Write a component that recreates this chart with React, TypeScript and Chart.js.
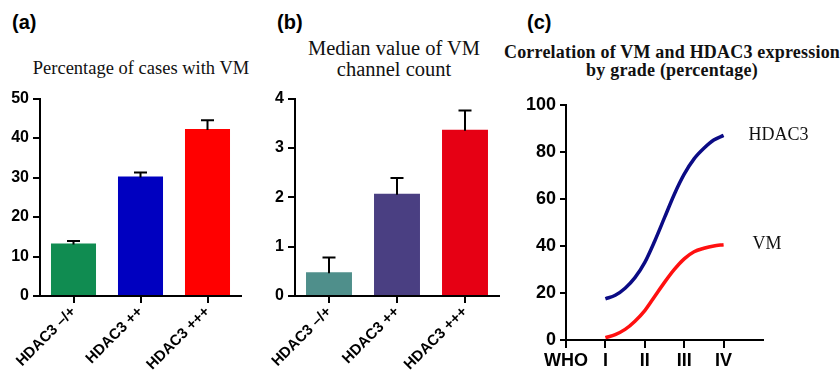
import React, { useEffect, useRef } from 'react';
import { Chart, registerables } from 'chart.js';

Chart.register(...registerables);

const SANS = '"Liberation Sans", Arial, Helvetica, sans-serif';
const SERIF = '"Liberation Serif", "Times New Roman", Times, serif';

// ---- Panel (a): percentage of cases with VM ----
const barCategories = ['HDAC3 –/+', 'HDAC3 ++', 'HDAC3 +++'];
const vmPercentValues = [13.3, 30.3, 42.3];
const vmPercentErrors = [0.6, 1.0, 2.2];
const vmPercentColors = ['#108c51', '#0000c0', '#ff0000'];
const vmPercentTicks = [0, 10, 20, 30, 40, 50];

// ---- Panel (b): median VM channel count ----
const channelValues = [0.48, 2.07, 3.37];
const channelErrors = [0.3, 0.32, 0.39];
const channelColors = ['#4f8f8b', '#4a3f82', '#e60014'];
const channelTicks = [0, 1, 2, 3, 4];

// ---- Panel (c): correlation by grade ----
const gradeTickValues = [0, 1, 2, 3, 4];
const gradeTickLabels = ['WHO', 'I', 'II', 'III', 'IV'];
const gradeAxisMax = 5;
const gradePositions = [1, 1.25, 1.5, 1.75, 2, 2.25, 2.5, 2.75, 3, 3.25, 3.5, 3.75, 4];
const hdac3Values = [17.5, 19, 22, 26.5, 33, 42, 52, 62, 70.5, 77, 81.5, 85, 87];
const vmValues = [1, 2.3, 4.5, 8, 12.5, 18.5, 24.5, 30, 34.5, 37.5, 39, 40, 40.5];
const percentYTicks = [0, 20, 40, 60, 80, 100];

const INK = '#000';

const errorBarPlugin = {
  id: 'errorBars',
  afterDatasetsDraw(chart: any, _args: any, opts: any) {
    const { ctx } = chart;
    const yScale = chart.scales.y;
    const errs: number[] = opts.errors || [];
    chart.data.datasets.forEach((ds: any, i: number) => {
      const meta = chart.getDatasetMeta(i);
      meta.data.forEach((bar: any, j: number) => {
        const v = ds.data[j];
        const top = yScale.getPixelForValue(v + errs[j]);
        ctx.save();
        ctx.strokeStyle = INK;
        ctx.lineWidth = 2;
        ctx.beginPath();
        ctx.moveTo(bar.x, bar.y + 1);
        ctx.lineTo(bar.x, top);
        ctx.moveTo(bar.x - 6.5, top);
        ctx.lineTo(bar.x + 6.5, top);
        ctx.stroke();
        ctx.restore();
      });
    });
  },
};

const seriesLabelPlugin = {
  id: 'seriesLabels',
  afterDatasetsDraw(chart: any, _args: any, opts: any) {
    const { ctx } = chart;
    chart.data.datasets.forEach((ds: any, i: number) => {
      const meta = chart.getDatasetMeta(i);
      const last = meta.data[meta.data.length - 1];
      if (!last) return;
      ctx.save();
      ctx.fillStyle = '#111';
      ctx.font = `18px ${SERIF}`;
      ctx.textAlign = 'left';
      ctx.textBaseline = 'middle';
      ctx.fillText(ds.label, last.x + (opts.offsets ? opts.offsets[i] : 25), last.y);
      ctx.restore();
    });
  },
};

const axisGrid = (tickLength: number) => ({
  display: true,
  drawOnChartArea: false,
  drawTicks: true,
  offset: false,
  color: INK,
  lineWidth: 2,
  tickLength,
});
const axisBorder = { display: true, color: INK, width: 2 };

function barConfig(
  values: number[],
  errors: number[],
  colors: string[],
  ticks: number[],
  yWidth: number,
  padTop: number,
  padRight: number,
  xHeight: number,
  barPct: number
): any {
  return {
    type: 'bar',
    data: {
      labels: barCategories,
      datasets: [
        {
          data: values,
          backgroundColor: colors,
          borderWidth: 0,
          barPercentage: barPct,
          categoryPercentage: 1,
        },
      ],
    },
    options: {
      animation: false,
      responsive: false,
      events: [],
      layout: { padding: { top: padTop, right: padRight, left: 0, bottom: 0 } },
      plugins: {
        legend: { display: false },
        tooltip: { enabled: false },
        title: { display: false },
        errorBars: { errors },
      },
      scales: {
        x: {
          type: 'category',
          offset: true,
          grid: axisGrid(7),
          border: axisBorder,
          ticks: {
            color: INK,
            font: { family: SANS, size: 15, weight: 'bold' },
            minRotation: 45,
            maxRotation: 45,
            padding: 0,
            autoSkip: false,
          },
          afterFit: (s: any) => {
            s.height = xHeight;
          },
        },
        y: {
          min: ticks[0],
          max: ticks[ticks.length - 1],
          afterBuildTicks: (s: any) => {
            s.ticks = ticks.map((v) => ({ value: v }));
          },
          grid: axisGrid(7),
          border: axisBorder,
          ticks: {
            color: INK,
            font: { family: SANS, size: 16, weight: 'bold' },
            padding: 4,
          },
          afterFit: (s: any) => {
            s.width = yWidth;
          },
        },
      },
    },
    plugins: [errorBarPlugin],
  };
}

function lineConfig(): any {
  return {
    type: 'line',
    data: {
      datasets: [
        {
          label: 'HDAC3',
          data: gradePositions.map((x, i) => ({ x, y: hdac3Values[i] })),
          borderColor: '#0b0b85',
          borderWidth: 3.5,
          pointRadius: 0,
          cubicInterpolationMode: 'monotone',
          fill: false,
        },
        {
          label: 'VM',
          data: gradePositions.map((x, i) => ({ x, y: vmValues[i] })),
          borderColor: '#ff1010',
          borderWidth: 3.5,
          pointRadius: 0,
          cubicInterpolationMode: 'monotone',
          fill: false,
        },
      ],
    },
    options: {
      animation: false,
      responsive: false,
      events: [],
      layout: { padding: { top: 12, right: 77, left: 0, bottom: 0 } },
      plugins: {
        legend: { display: false },
        tooltip: { enabled: false },
        title: { display: false },
        seriesLabels: { offsets: [25, 29] },
      },
      scales: {
        x: {
          type: 'linear',
          min: 0,
          max: gradeAxisMax,
          afterBuildTicks: (s: any) => {
            s.ticks = gradeTickValues.map((v) => ({ value: v }));
          },
          grid: axisGrid(8),
          border: axisBorder,
          ticks: {
            color: INK,
            font: { family: SANS, size: 18, weight: 'bold' },
            padding: 2,
            maxRotation: 0,
            autoSkip: false,
            callback: (v: number) => {
              const k = gradeTickValues.indexOf(v);
              return k >= 0 ? gradeTickLabels[k] : '';
            },
          },
          afterFit: (s: any) => {
            s.height = 31;
          },
        },
        y: {
          min: percentYTicks[0],
          max: percentYTicks[percentYTicks.length - 1],
          afterBuildTicks: (s: any) => {
            s.ticks = percentYTicks.map((v) => ({ value: v }));
          },
          grid: axisGrid(6),
          border: axisBorder,
          ticks: {
            color: INK,
            font: { family: SANS, size: 18, weight: 'bold' },
            padding: 4,
          },
          afterFit: (s: any) => {
            s.width = 60;
          },
        },
      },
    },
    plugins: [seriesLabelPlugin],
  };
}

function ChartCanvas(props: { make: () => any; left: number; top: number; width: number; height: number }) {
  const ref = useRef<HTMLCanvasElement | null>(null);
  useEffect(() => {
    if (!ref.current) return;
    const chart = new Chart(ref.current, props.make());
    return () => chart.destroy();
  }, []);
  return (
    <canvas
      ref={ref}
      width={props.width}
      height={props.height}
      style={{ position: 'absolute', left: props.left, top: props.top, width: props.width, height: props.height }}
    />
  );
}

const panelLabel = (text: string, left: number) => (
  <div
    style={{
      position: 'absolute',
      left,
      top: 12,
      font: `bold 20px ${SANS}`,
      lineHeight: '20px',
      color: INK,
      whiteSpace: 'nowrap',
    }}
  >
    {text}
  </div>
);

export default function App() {
  return (
    <div
      style={{
        position: 'fixed',
        left: 0,
        top: 0,
        width: 840,
        height: 371,
        overflow: 'hidden',
        background: '#fff',
      }}
    >
      {panelLabel('(a)', 12)}
      {panelLabel('(b)', 277)}
      {panelLabel('(c)', 527)}

      <div
        style={{
          position: 'absolute',
          left: 141 - 200,
          width: 400,
          top: 59,
          textAlign: 'center',
          font: `18.5px ${SERIF}`,
          lineHeight: '18.5px',
          color: '#111',
          whiteSpace: 'nowrap',
        }}
      >
        Percentage of cases with VM
      </div>

      <div
        style={{
          position: 'absolute',
          left: 394 - 200,
          width: 400,
          top: 38,
          textAlign: 'center',
          font: `20.5px ${SERIF}`,
          lineHeight: '21px',
          color: '#111',
          whiteSpace: 'nowrap',
        }}
      >
        Median value of VM
        <br />
        channel count
      </div>

      <div
        style={{
          position: 'absolute',
          left: 672 - 300,
          width: 600,
          top: 43,
          textAlign: 'center',
          font: `bold 18px ${SERIF}`,
          lineHeight: '18px',
          letterSpacing: '0.2px',
          color: '#111',
          whiteSpace: 'nowrap',
        }}
      >
        Correlation of VM and HDAC3 expression
        <br />
        by grade (percentage)
      </div>

      <ChartCanvas
        make={() =>
          barConfig(vmPercentValues, vmPercentErrors, vmPercentColors, vmPercentTicks, 40, 10, 21, 75, 0.672)
        }
        left={0}
        top={85}
        width={262}
        height={286}
      />
      <ChartCanvas
        make={() => barConfig(channelValues, channelErrors, channelColors, channelTicks, 40, 9, 18, 75, 0.676)}
        left={255}
        top={85}
        width={262}
        height={286}
      />
      <ChartCanvas make={lineConfig} left={506} top={90} width={334} height={281} />
    </div>
  );
}
